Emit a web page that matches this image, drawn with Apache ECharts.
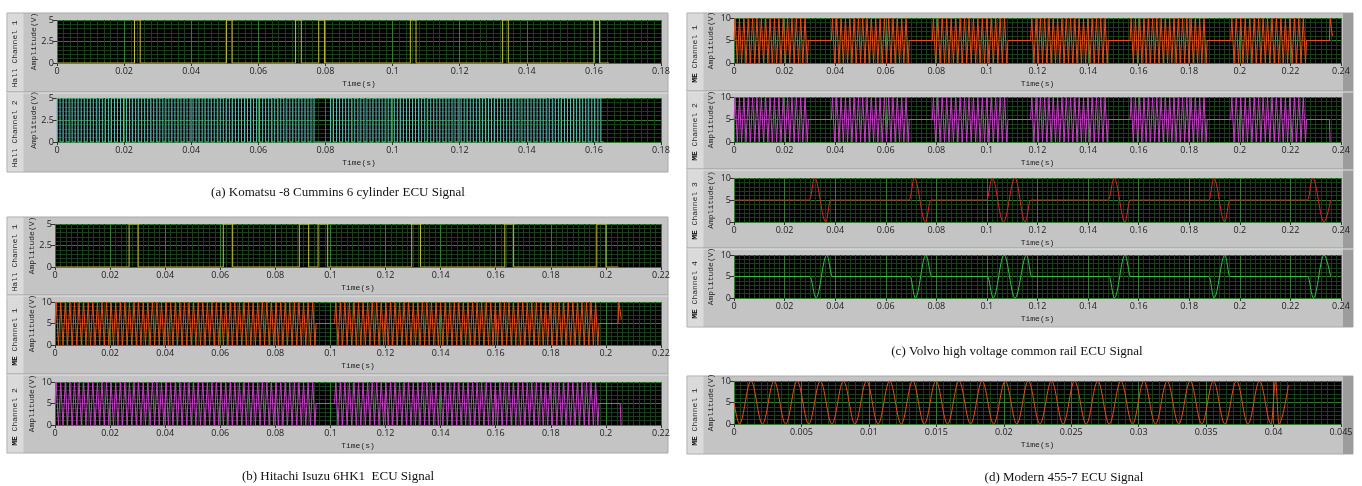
<!DOCTYPE html>
<html><head><meta charset="utf-8">
<script src="https://cdn.jsdelivr.net/npm/echarts@6/dist/echarts.min.js"></script>
<style>html,body{margin:0;padding:0;background:#fff}#c{width:1362px;height:486px}</style>
</head><body><div id="c"></div>
<script>
// ================= DATA (time in s, amplitude in V) =================
// (a) Komatsu -8 Cummins
const aHall1Pulses = [[0.0231,0.0248],[0.0505,0.0522],[0.0711,0.0728],[0.0780,0.0797],[0.1053,0.1070],[0.1328,0.1345],[0.1600,0.1617]];
const aHall1End = 0.1645;
const aHall2Bursts = [[0,0.0775,43],[0.0815,0.1630,45]];          // [start, end, pulse count]
// (b) Hitachi Isuzu 6HK1
const bHall1Pulses = [[0.0269,0.0302],[0.0611,0.0645],[0.0887,0.0921],[0.0955,0.0990],[0.1295,0.1327],[0.1633,0.1665],[0.1967,0.2000]];
const bHall1End = 0.2045;
const bMEBursts = [[0,0.0948,57],[0.1015,0.1975,58]];             // [start, end, cycles]
const bME1Tail = [[0.2044,5],[0.2047,10],[0.2056,6]];
const bME2Tail = [[0.2052,5],[0.2055,0]];
// (c) Volvo high voltage common rail
const cMEBursts = [[0,0.0294,17],[0.0385,0.0693,18],[0.0784,0.1083,17],[0.1173,0.1480,18],[0.1566,0.1871,18],[0.1964,0.2264,17]];
const cME1Tail = [[0.2354,5],[0.2357,10],[0.2366,6]];
const cME2Tail = [[0.2354,5],[0.2357,0]];
const cME3Events = [ // start, extremes (peak first), end
  [0.0298,0.0319,0.0363,0.0382],
  [0.0693,0.0713,0.0757,0.0778],
  [0.0999,0.1021,0.1065,0.1111,0.1151,0.1173],
  [0.1480,0.1503,0.1546,0.1566],
  [0.1878,0.1897,0.1940,0.1961],
  [0.2268,0.2288,0.2333,0.2359]];
const cME4Events = [ // start, extremes (trough first), end
  [0.0300,0.0324,0.0367,0.0389],
  [0.0696,0.0717,0.0759,0.0782],
  [0.1002,0.1025,0.1068,0.1111,0.1157,0.1177],
  [0.1483,0.1504,0.1546,0.1569],
  [0.1878,0.1898,0.1941,0.1961],
  [0.2268,0.2291,0.2333,0.2359]];
// (d) Modern 455-7
const dTroughs = [0.0004,0.00211,0.00383,0.00554,0.00726,0.00897,0.01068,0.0124,0.01411,0.01583,0.01754,0.01925,0.02097,0.02268,0.0244,0.02611,0.02782,0.02954,0.03125,0.03297,0.03468,0.03639,0.03811,0.03982,0.0404];
const dPeaks = [0.00126,0.00297,0.00468,0.0064,0.00811,0.00983,0.01154,0.01325,0.01497,0.01668,0.0184,0.02011,0.02182,0.02354,0.02525,0.02697,0.02868,0.03039,0.03211,0.03382,0.03554,0.03725,0.03896,0.04015];
const dEnd = [0.0411, 9];

const captions = ['(a) Komatsu -8 Cummins 6 cylinder ECU Signal','(b) Hitachi Isuzu 6HK1  ECU Signal','(c) Volvo high voltage common rail ECU Signal','(d) Modern 455-7 ECU Signal'];
const channelNames = ['Hall Channel 1','Hall Channel 2','Hall Channel 1','ME Channel 1','ME Channel 2','ME Channel 1','ME Channel 2','ME Channel 3','ME Channel 4','ME Channel 1'];

// ================= builders =================
function pulseTrain(pulses, end, hi){
  const p=[[0,0]];
  pulses.forEach(([s,e])=>p.push([s,0],[s,hi],[e,hi],[e,0]));
  p.push([end,0]); return p;
}
function squareBursts(bursts, hi){
  const p=[[0,0]];
  bursts.forEach(([s,e,n])=>{const per=(e-s)/n;
    for(let k=0;k<n;k++){const r=s+k*per,f=r+per/2;p.push([r,0],[r,hi],[f,hi],[f,0]);}
    p.push([e,0]);});
  return p;
}
function zigzag(bursts, tail){
  const p=[];
  bursts.forEach(([s,e,n])=>{const per=(e-s)/n;p.push([s,5]);
    for(let k=0;k<n;k++){p.push([s+(k+0.25)*per,10],[s+(k+0.75)*per,0]);}
    p.push([e,5]);});
  tail.forEach(t=>p.push(t)); return p;
}
function sineEvents(events, firstHigh){
  const p=[[0,5]];
  events.forEach(ev=>{p.push([ev[0],5]);
    for(let i=1;i<ev.length-1;i++){const hi=((i-1)%2===0)===firstHigh;p.push([ev[i],hi?10:0]);}
    p.push([ev[ev.length-1],5]);});
  return p;
}
function dWave(){
  const p=[[0,5]];
  dTroughs.forEach(t=>p.push([t,0])); dPeaks.forEach(t=>p.push([t,10]));
  p.sort((a,b)=>a[0]-b[0]); p.push(dEnd); return p;
}

// ================= layout =================
const G = [
  {l:57,t:20,w:604,h:43,max:0.18,iv:0.02,ym:5},
  {l:57,t:98,w:604,h:44,max:0.18,iv:0.02,ym:5},
  {l:55,t:224,w:606,h:43,max:0.22,iv:0.02,ym:5},
  {l:55,t:302,w:606,h:43,max:0.22,iv:0.02,ym:10},
  {l:55,t:382,w:606,h:43,max:0.22,iv:0.02,ym:10},
  {l:734,t:18,w:607,h:45,max:0.24,iv:0.02,ym:10},
  {l:734,t:97,w:607,h:45,max:0.24,iv:0.02,ym:10},
  {l:734,t:178,w:607,h:44,max:0.24,iv:0.02,ym:10},
  {l:734,t:255,w:607,h:43,max:0.24,iv:0.02,ym:10},
  {l:734,t:381,w:607,h:43,max:0.045,iv:0.005,ym:10}
];
const seriesData = [
  {d:pulseTrain(aHall1Pulses,aHall1End,5), c:'#c4bc3c'},
  {d:squareBursts(aHall2Bursts,5), c:'#5fc4bc'},
  {d:pulseTrain(bHall1Pulses,bHall1End,5), c:'#c4bc3c'},
  {d:zigzag(bMEBursts,bME1Tail), c:'#ea4e1c'},
  {d:zigzag(bMEBursts,bME2Tail), c:'#cc3fcc'},
  {d:zigzag(cMEBursts,cME1Tail), c:'#ea4e1c'},
  {d:zigzag(cMEBursts,cME2Tail), c:'#cc3fcc'},
  {d:sineEvents(cME3Events,true), c:'#d42a2a', s:true},
  {d:sineEvents(cME4Events,false), c:'#34c444', s:true},
  {d:dWave(), c:'#e4501e', s:true}
];
const labelFont = 'Liberation Mono';
const grids=[], xAxes=[], yAxes=[], series=[];
G.forEach((g,i)=>{
  grids.push({left:g.l,top:g.t,width:g.w,height:g.h,show:true,backgroundColor:'#000',borderWidth:0,containLabel:false});
  xAxes.push({gridIndex:i,type:'value',min:0,max:g.max,interval:g.iv,
    axisLine:{show:false},axisTick:{show:true,length:3,lineStyle:{color:'#333'}},
    axisLabel:{fontSize:9,color:'#222',margin:4,fontFamily:'Open Sans'},
    splitLine:{show:true,lineStyle:{color:'#357a35',width:1}},
    minorTick:{show:true,splitNumber:10,length:0,lineStyle:{color:'rgba(0,0,0,0)'}},
    minorSplitLine:{show:true,lineStyle:{color:'#1b3d1b',width:1}},
    name:'Time(s)',nameLocation:'middle',nameGap:17,
    nameTextStyle:{fontFamily:labelFont,fontSize:8,color:'#222'}});
  yAxes.push({gridIndex:i,type:'value',min:0,max:g.ym,interval:g.ym/2,
    axisLine:{show:false},axisTick:{show:true,length:4,lineStyle:{color:'#333'}},
    axisLabel:{fontSize:9,color:'#222',margin:3,fontFamily:'Open Sans'},
    splitLine:{show:true,lineStyle:{color:'#357a35',width:1}},
    minorTick:{show:true,splitNumber:5,length:0,lineStyle:{color:'rgba(0,0,0,0)'}},
    minorSplitLine:{show:true,lineStyle:{color:'#1b3d1b',width:1}},
    name:'Amplitude(V)',nameLocation:'middle',nameGap:19,nameRotate:90,
    nameTextStyle:{fontFamily:labelFont,fontSize:8,color:'#222'}});
  const sd=seriesData[i];
  series.push({type:'line',xAxisIndex:i,yAxisIndex:i,data:sd.d,showSymbol:false,
    smooth:sd.s?0.36:false,smoothMonotone:sd.s?'x':undefined,
    lineStyle:{color:sd.c,width:1},itemStyle:{color:sd.c},silent:true,animation:false,clip:true});
});

// panels
const graphics=[];
function panel(x,y,w,h,seps,bar){
  graphics.push({type:'rect',z:-100,shape:{x:x,y:y,width:w,height:h},style:{fill:'#c4c4c4',stroke:'#a8a8a8',lineWidth:1}});
  graphics.push({type:'rect',z:-99,shape:{x:x+0.5,y:y+0.5,width:16,height:h-1},style:{fill:'#dadada'}});
  if(bar) graphics.push({type:'rect',z:-99,shape:{x:x+w-10,y:y,width:10,height:h},style:{fill:'#9c9c9c'}});
  seps.forEach(s=>{
    graphics.push({type:'line',z:-98,shape:{x1:x,y1:s,x2:x+w,y2:s},style:{stroke:'#9a9a9a',lineWidth:1}});
    graphics.push({type:'line',z:-98,shape:{x1:x,y1:s+1,x2:x+w,y2:s+1},style:{stroke:'#e4e4e4',lineWidth:1}});
  });
}
panel(7,13,661,159,[92]);
panel(7,217,661,236,[295,374]);
panel(687,13,666,314,[91,169,248],true);
panel(687,376,666,78,[],true);

const chanX=[15,15,15,15,15,695,695,695,695,695];
const chanY=[54,134,258,337,417,54,132,211,290,417];
channelNames.forEach((n,i)=>{
  const me=n.indexOf('ME ')===0;
  graphics.push({type:'text',z:100,x:chanX[i],y:chanY[i],rotation:Math.PI/2,
    style:{text:me?'{b|ME}'+n.slice(2):n,fontFamily:labelFont,fontSize:8,fill:'#222',align:'center',verticalAlign:'middle',
      rich:{b:{fontFamily:labelFont,fontSize:8,fontWeight:'bold',fill:'#111'}}}});
});
const capPos=[[338,193],[338,477],[1017,352],[1064,478]];
captions.forEach((c,i)=>{
  graphics.push({type:'text',z:100,x:capPos[i][0],y:capPos[i][1],
    style:{text:c,fontFamily:'Liberation Serif',fontSize:13,fill:'#111',align:'center',verticalAlign:'middle'}});
});

const chart=echarts.init(document.getElementById('c'),null,{renderer:'canvas'});
chart.setOption({animation:false,backgroundColor:'#fff',grid:grids,xAxis:xAxes,yAxis:yAxes,series:series,graphic:{elements:graphics}});
</script></body></html>
